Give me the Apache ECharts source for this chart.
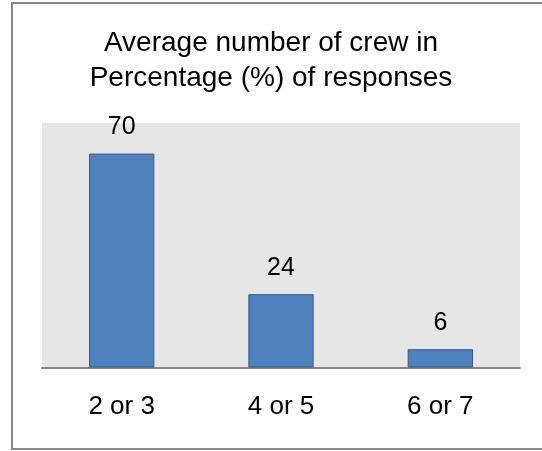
<!DOCTYPE html>
<html>
<head>
<meta charset="utf-8">
<script src="https://cdn.jsdelivr.net/npm/echarts@6/dist/echarts.min.js"></script>
<style>
  html, body { margin: 0; padding: 0; background: #ffffff; }
  #chart { width: 542px; height: 451px; }
</style>
</head>
<body>
<div id="chart"></div>
<script>
// Crew size groups and share of responses (%)
const categories = ['2 or 3', '4 or 5', '6 or 7'];
const percentages = [70, 24, 6];
const titleLines = ['Average number of crew in', 'Percentage (%) of responses'];

const FONT = '"Liberation Sans", Arial, sans-serif';

const chart = echarts.init(document.getElementById('chart'), null, { renderer: 'canvas' });

chart.setOption({
  backgroundColor: '#ffffff',
  animation: false,
  title: {
    text: titleLines.join('\n'),
    left: 266,
    top: 21,
    textAlign: 'center',
    textStyle: {
      fontFamily: FONT,
      fontSize: 28,
      fontWeight: 'normal',
      color: '#000000',
      lineHeight: 35
    }
  },
  graphic: [{
    type: 'rect',
    shape: { x: 12, y: 3, width: 620, height: 446 },
    style: { fill: 'none', stroke: '#888888', lineWidth: 2 },
    silent: true,
    z: 100
  }],
  grid: {
    left: 42,
    right: 22,
    top: 123,
    bottom: 83.5,
    show: true,
    backgroundColor: '#e6e6e6',
    borderWidth: 0
  },
  xAxis: {
    type: 'category',
    data: categories,
    axisLine: { show: true, lineStyle: { color: '#868686', width: 2 } },
    axisTick: { show: false },
    splitLine: { show: false },
    axisLabel: {
      fontFamily: FONT,
      fontSize: 26,
      color: '#000000',
      margin: 26
    }
  },
  yAxis: {
    type: 'value',
    min: 0,
    max: 80,
    show: false,
    splitLine: { show: false }
  },
  series: [{
    type: 'bar',
    data: percentages,
    barWidth: '41%',
    itemStyle: {
      color: '#4f81bd',
      borderColor: '#385d8a',
      borderWidth: 1
    },
    label: {
      show: true,
      position: 'top',
      distance: 14,
      fontFamily: FONT,
      fontSize: 25,
      color: '#000000'
    }
  }]
});
</script>
</body>
</html>
